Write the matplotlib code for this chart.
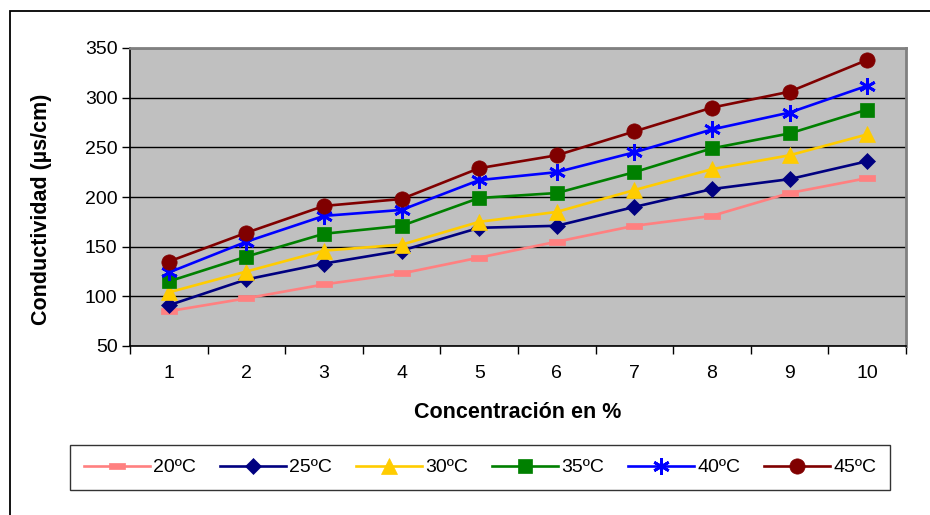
import numpy as np
import matplotlib.pyplot as plt
from matplotlib.patches import Rectangle
from matplotlib.ticker import FixedLocator, NullFormatter

plt.rcParams['font.family'] = ['Liberation Sans', 'DejaVu Sans']

conc = [1, 2, 3, 4, 5, 6, 7, 8, 9, 10]
labels = ["20ºC", "25ºC", "30ºC", "35ºC", "40ºC", "45ºC"]
t20 = [85, 98, 112, 123, 139, 155, 171, 181, 204, 219]
t25 = [91, 117, 133, 146, 169, 171, 190, 208, 218, 236]
t30 = [104, 125, 146, 152, 175, 185, 207, 228, 242, 263]
t35 = [115, 140, 163, 171, 199, 204, 225, 249, 264, 288]
t40 = [124, 155, 181, 187, 217, 225, 245, 268, 285, 312]
t45 = [135, 164, 191, 198, 229, 242, 266, 290, 306, 338]

series = [t20, t25, t30, t35, t40, t45]
colors = ["#FF8080", "#000080", "#FFCC00", "#008000", "#0000FF", "#800000"]
dash = [(-1, -0.35), (1, -0.35), (1, 0.35), (-1, 0.35), (-1, -0.35)]
markers = [dash, "D", "^", "s", (6, 2, 0), "o"]
msizes = [11, 8, 11, 10, 12, 11]

fig = plt.figure(figsize=(9.3, 5.15), dpi=100)
ax = fig.add_axes([130/930, 1 - 346/515, 776/930, 298/515])
ax.set_facecolor("#C0C0C0")

for y, c, m, ms, lab in zip(series, colors, markers, msizes, labels):
    mew = 2 if m == (6, 2, 0) else 0.5
    ax.plot(conc, y, color=c, lw=1.9, marker=m, markersize=ms,
            markerfacecolor=c, markeredgecolor=c, markeredgewidth=mew,
            label=lab, zorder=3)

ax.set_xlim(0.5, 10.5)
ax.set_ylim(50, 350)
ax.set_yticks(range(50, 351, 50))
ax.set_xticks(conc)
ax.xaxis.set_minor_locator(FixedLocator(np.arange(0.5, 11, 1)))
ax.xaxis.set_minor_formatter(NullFormatter())
ax.tick_params(axis='x', which='major', length=0, pad=14, labelsize=14)
ax.tick_params(axis='x', which='minor', length=6, width=1, direction='out')
ax.tick_params(axis='y', length=6, width=1, direction='out', labelsize=14, pad=3)
ax.grid(axis='y', color='black', lw=1, zorder=1)
ax.set_axisbelow(True)
for s in ["top", "right"]:
    ax.spines[s].set_color("#808080")
    ax.spines[s].set_linewidth(2)
for s in ["left", "bottom"]:
    ax.spines[s].set_linewidth(1.2)

ax.set_xlabel("Concentración en %", fontsize=15.5, fontweight='bold')
ax.xaxis.set_label_coords(0.5, -(412 - 346) / 298, transform=ax.transAxes)
ax.xaxis.label.set_va('center')
ax.set_ylabel("Conductividad (µs/cm)", fontsize=15.5, fontweight='bold')
ax.yaxis.set_label_coords(-(130 - 42) / 776, 0.46, transform=ax.transAxes)
ax.yaxis.label.set_va('center')

leg = fig.legend(loc='lower left', ncol=6, mode='expand',
                 bbox_to_anchor=(70/930, 1 - 490/515, 820/930, 47/515),
                 fontsize=14, frameon=True, fancybox=False, handlelength=3.4,
                 handletextpad=0.15, borderaxespad=0, borderpad=0.7)
leg.get_frame().set_edgecolor("black")
leg.get_frame().set_linewidth(1)

fig.patches.append(Rectangle((10/930, -0.1), 2, 1 - 11/515 + 0.1,
                             transform=fig.transFigure, fill=False,
                             edgecolor="black", lw=1.3))

fig.savefig("out.png", dpi=100)
